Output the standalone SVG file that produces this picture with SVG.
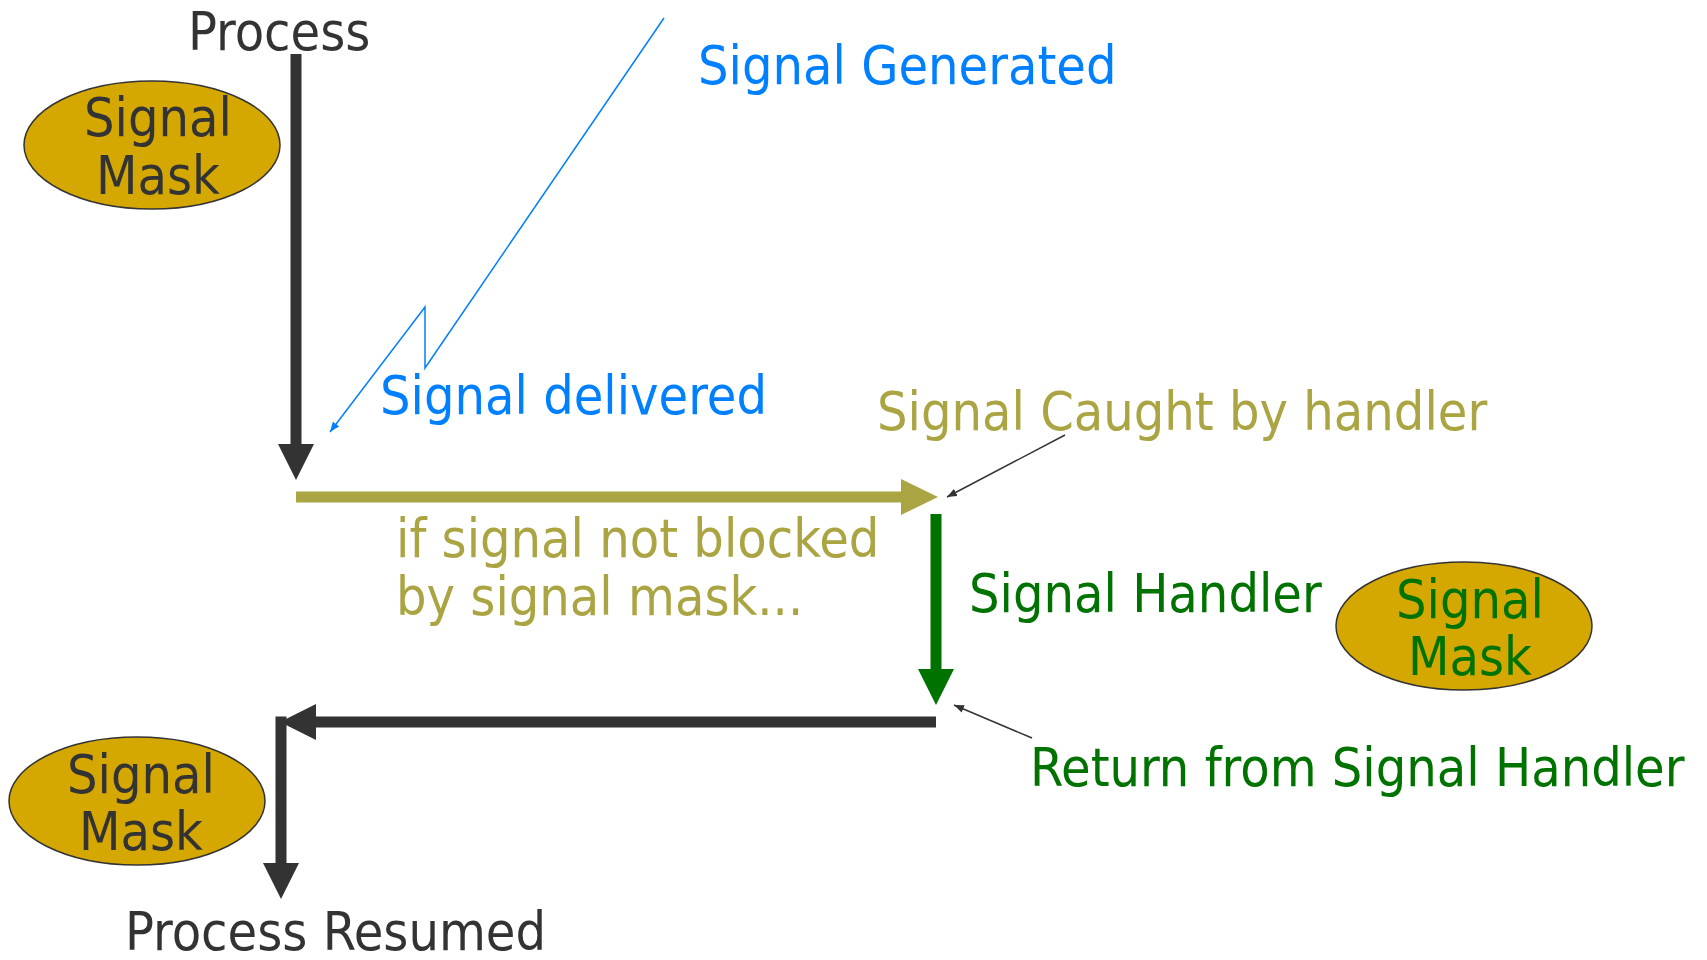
<svg xmlns="http://www.w3.org/2000/svg" width="1707" height="960" viewBox="0 0 1707 960">
<style>
text{font-family:"DejaVu Sans Condensed","DejaVu Sans",sans-serif;font-size:53.5px}
.dark{fill:#333333}.blue{fill:#0080ff}.olive{fill:#aaa542}.green{fill:#007200}
.mask{fill:#d4a800;stroke:#333333;stroke-width:1.5}
.mid{text-anchor:middle}
</style>
<defs>
<marker id="hDark" markerUnits="userSpaceOnUse" markerWidth="36" markerHeight="36" viewBox="0 0 36 36" refX="0" refY="18" orient="auto"><path d="M0,0L36,18L0,36z" fill="#333333"/></marker>
<marker id="hOlive" markerUnits="userSpaceOnUse" markerWidth="37" markerHeight="36" viewBox="0 0 37 36" refX="0" refY="18" orient="auto"><path d="M0,0L37,18L0,36z" fill="#aaa542"/></marker>
<marker id="hGreen" markerUnits="userSpaceOnUse" markerWidth="36" markerHeight="36" viewBox="0 0 36 36" refX="0" refY="18" orient="auto"><path d="M0,0L36,18L0,36z" fill="#007200"/></marker>
<marker id="hThin" markerUnits="userSpaceOnUse" markerWidth="10" markerHeight="8" viewBox="0 0 10 8" refX="10" refY="4" orient="auto"><path d="M0,0L10,4L0,8z" fill="#333333"/></marker>
<marker id="hBlue" markerUnits="userSpaceOnUse" markerWidth="10" markerHeight="8" viewBox="0 0 10 8" refX="10" refY="4" orient="auto"><path d="M0,0L10,4L0,8z" fill="#0080ff"/></marker>
</defs>
<g id="connectors">
<line x1="296" y1="54" x2="296" y2="444" stroke="#333333" stroke-width="11" marker-end="url(#hDark)"/>
<line x1="296" y1="497" x2="901" y2="497" stroke="#aaa542" stroke-width="11" marker-end="url(#hOlive)"/>
<line x1="936" y1="514" x2="936" y2="669" stroke="#007200" stroke-width="11" marker-end="url(#hGreen)"/>
<line x1="936" y1="722" x2="316" y2="722" stroke="#333333" stroke-width="11" marker-end="url(#hDark)"/>
<line x1="281" y1="716.5" x2="281" y2="863" stroke="#333333" stroke-width="11" marker-end="url(#hDark)"/>
<polyline points="664,18 425,368 425,307 330,432" fill="none" stroke="#0080ff" stroke-width="1.5" marker-end="url(#hBlue)"/>
<line x1="1065" y1="435" x2="947" y2="497" stroke="#333333" stroke-width="1.5" marker-end="url(#hThin)"/>
<line x1="1032" y1="738" x2="954" y2="705" stroke="#333333" stroke-width="1.5" marker-end="url(#hThin)"/>
</g>
<g id="process"><text class="dark" x="188" y="50">Process</text></g>
<g id="mask1">
<ellipse class="mask" cx="152" cy="145" rx="128" ry="64"/>
<text class="dark mid" x="158" y="136">Signal</text>
<text class="dark mid" x="158" y="194">Mask</text>
</g>
<g id="signal-generated"><text class="blue" x="698" y="84">Signal Generated</text></g>
<g id="signal-delivered"><text class="blue" x="380" y="414">Signal delivered</text></g>
<g id="signal-caught"><text class="olive" x="877" y="430">Signal Caught by handler</text></g>
<g id="not-blocked">
<text class="olive" x="396" y="557">if signal not blocked</text>
<text class="olive" x="396" y="615">by signal mask...</text>
</g>
<g id="signal-handler"><text class="green" x="969" y="612">Signal Handler</text></g>
<g id="mask2">
<ellipse class="mask" cx="1464" cy="626" rx="128" ry="64"/>
<text class="green mid" x="1470" y="618">Signal</text>
<text class="green mid" x="1470" y="675">Mask</text>
</g>
<g id="return"><text class="green" x="1030" y="786">Return from Signal Handler</text></g>
<g id="mask3">
<ellipse class="mask" cx="137" cy="801" rx="128" ry="64"/>
<text class="dark mid" x="141" y="793">Signal</text>
<text class="dark mid" x="141" y="850">Mask</text>
</g>
<g id="resumed"><text class="dark" x="125" y="950">Process Resumed</text></g>
</svg>
